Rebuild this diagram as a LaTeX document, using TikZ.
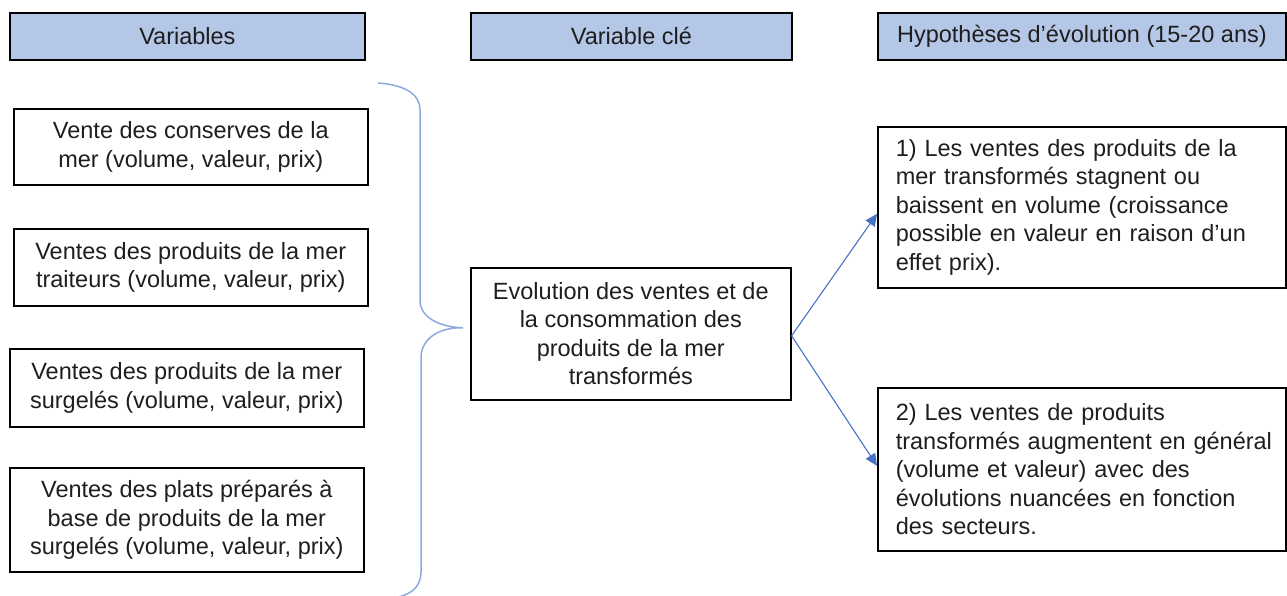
\documentclass[tikz,border=0pt]{standalone}
\usepackage{fontspec}
\setmainfont{Liberation Sans}
\usetikzlibrary{arrows.meta}
\definecolor{headfill}{HTML}{B4C7E7}
\definecolor{linkblue}{HTML}{4472C4}
\definecolor{bracecol}{HTML}{8EA9DB}
\definecolor{inkcol}{HTML}{1E1E1E}

\begin{document}
\begin{tikzpicture}[x=1pt,y=-1pt,
  every node/.style={font=\fontsize{23.5}{28.5}\selectfont, text=inkcol},
  header/.style={draw=black, line width=1.8pt, fill=headfill,
    anchor=north west, inner sep=0pt},
  varbox/.style={draw=black, line width=1.6pt, anchor=north west,
    inner sep=0pt, align=center},
  hypbox/.style={draw=black, line width=1.6pt, anchor=north west,
    inner xsep=18pt, inner ysep=0pt, text width=372pt, align=left},
  link/.style={draw=linkblue, line width=1.1pt,
    -{Triangle[length=12pt,width=11pt]}},
  bracestyle/.style={draw=bracecol, line width=1.5pt}]
\useasboundingbox (0,0) rectangle (1287,596);

% column headers
\node[header, minimum width=355pt, minimum height=47pt] (hvar) at (9,12) {Variables};
\node[header, minimum width=321pt, minimum height=47pt] (hkey) at (470,12) {Variable clé};
\node[header, minimum width=408pt, minimum height=47pt] (hhyp) at (877,12) {Hypothèses d’évolution (15-20 ans)};

% variables
\node[varbox, minimum width=354pt, minimum height=76pt] (v1) at (13,108)
  {Vente des conserves de la\\mer (volume, valeur, prix)};
\node[varbox, minimum width=354pt, minimum height=77pt] (v2) at (13,228)
  {Ventes des produits de la mer\\traiteurs (volume, valeur, prix)};
\node[varbox, minimum width=354pt, minimum height=78pt] (v3) at (9,348)
  {Ventes des produits de la mer\\surgelés (volume, valeur, prix)};
\node[varbox, minimum width=354pt, minimum height=104pt] (v4) at (9,467)
  {Ventes des plats préparés à\\base de produits de la mer\\surgelés (volume, valeur, prix)};

% key variable
\node[varbox, minimum width=320pt, minimum height=132pt] (key) at (470,267)
  {Evolution des ventes et de\\la consommation des\\produits de la mer\\transformés};

% hypotheses (each line kept whole)
\node[hypbox, minimum height=161pt] (hyp1) at (877,126)
  {\mbox{1) Les ventes des produits de la}\\\mbox{mer transformés stagnent ou}\\\mbox{baissent en volume (croissance}\\\mbox{possible en valeur en raison d’un}\\\mbox{effet prix).}};
\node[hypbox, minimum height=163pt] (hyp2) at (877,387)
  {\mbox{2) Les ventes de produits}\\\mbox{transformés augmentent en général}\\\mbox{(volume et valeur) avec des}\\\mbox{évolutions nuancées en fonction}\\\mbox{des secteurs.}};

% brace grouping the variables
\coordinate (btop) at (378,83);
\coordinate (btip) at ([xshift=-7pt,yshift=6pt]key.west);
\coordinate (bbot) at (398,597);
\draw[bracestyle] (btop) .. controls (405,85) and (420,94) .. (420,110)
  -- (420,300) .. controls (420,318) and (440,327) .. (btip)
  .. controls (440,327) and (421,338) .. (421,358)
  -- (421,572) .. controls (421,586) and (412,594) .. (bbot);

% arrows to the hypotheses
\draw[link] ([yshift=-2pt]key.east) -- ([yshift=-6.5pt]hyp1.west);
\draw[link] ([yshift=-2pt]key.east) -- ([yshift=3.5pt]hyp2.west);
\end{tikzpicture}
\end{document}
